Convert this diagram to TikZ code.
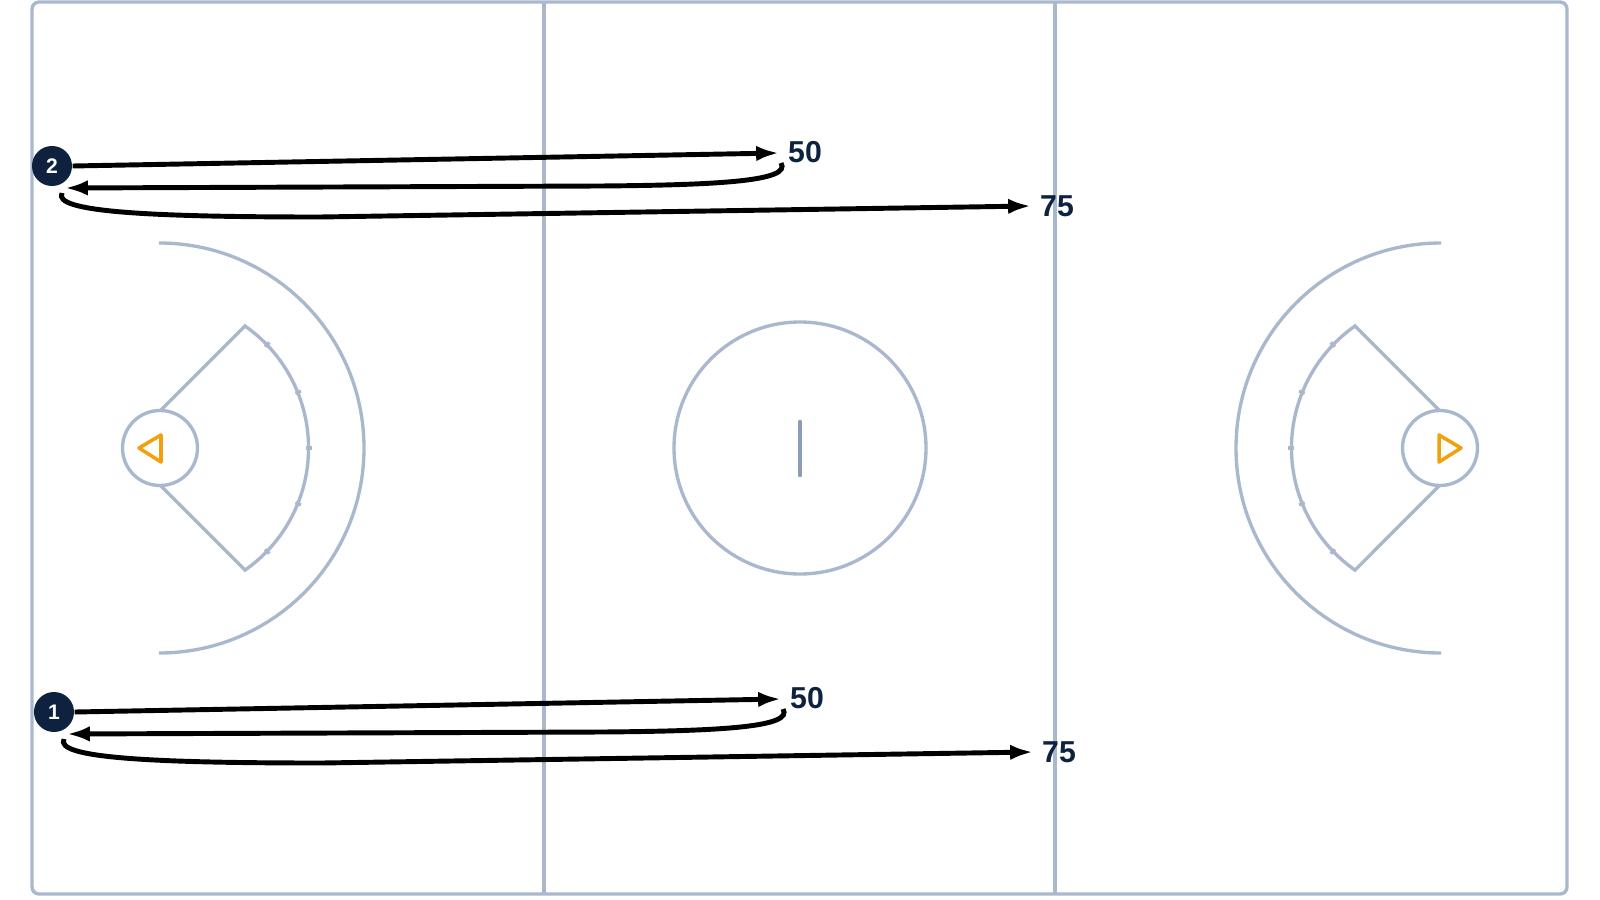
\documentclass[tikz,border=0pt]{standalone}
\usepackage{fontspec}
\setmainfont{Liberation Sans}
\usetikzlibrary{arrows.meta}

\definecolor{fieldline}{RGB}{169,184,204}
\definecolor{centerline}{RGB}{138,157,183}
\definecolor{navy}{RGB}{14,34,64}
\definecolor{goalorange}{RGB}{242,160,12}

\begin{document}
\begin{tikzpicture}[x=0.01cm,y=-0.01cm,
        field/.style={draw=fieldline,line width=0.95pt},
        goalmark/.style={draw=goalorange,line width=1pt,line join=round},
        run/.style={draw=black,line width=1.4pt,-{Latex[length=6.5pt,width=4.4pt]}},
        player/.style={circle,fill=navy,text=white,inner sep=0pt,minimum size=0.4cm,
            font=\fontsize{6}{7}\selectfont\bfseries},
        dist/.style={text=navy,inner sep=0pt,font=\fontsize{8.6}{10}\selectfont\bfseries}]
            \useasboundingbox (0,0) rectangle (1600,900);
            \fill[white] (0,0) rectangle (1600,900);
            % field
            \draw[field,rounded corners=2pt] (32,2) rectangle (1567,894);
            \draw[field] (544,2)--(544,894);
            \draw[field] (1055,2)--(1055,894);
            \draw[field] (800,448) circle (126);
            \draw[draw=centerline,line width=1.3pt,line cap=round] (800,422)--(800,475);
            % left goal
            \draw[field] (159,243) arc (-90:90:205);
            \draw[field] (160,448) circle (37.5);
            \draw[field] (160,411)--(245,326) arc (-55:55:149)--(160,485);
            \foreach \a in {-44,-22,0,22,44}
                \draw[field,shift={(160,448)}] (\a:146)--(\a:152);
            \draw[goalmark] (139,448)--(161,435)--(161,462)--cycle;
            % right goal
            \draw[field] (1441,243) arc (-90:-270:205);
            \draw[field] (1440,448) circle (37.5);
            \draw[field] (1440,411)--(1355,326) arc (-125:-235:149)--(1440,485);
            \foreach \a in {136,158,180,202,224}
                \draw[field,shift={(1440,448)}] (\a:146)--(\a:152);
            \draw[goalmark] (1439,435)--(1461,448)--(1439,462)--cycle;
            % players and runs
            \foreach \n/\dx/\dy in {2/0/0,1/2/546}{
                \begin{scope}[shift={(\dx,\dy)}]
                    \node[player] (p\n) at (52,166) {\n};
                    \coordinate (go\n) at (779,153);
                    \coordinate (turn\n) at (781,163);
                    \coordinate (back\n) at (65,188);
                    \coordinate (start\n) at (62,193);
                    \coordinate (far\n) at (1031,206);
                    \node[dist] (half\n) at (805,152) {50};
                    \node[dist] (full\n) at (1057,206) {75};
                    \draw[run] (p\n.east)--(go\n);
                    \draw[run] (turn\n) .. controls (792,181) and (720,185) .. (600,186)--(back\n);
                    \draw[run] (start\n) .. controls (52,212) and (150,217) .. (320,217)--(far\n);
                \end{scope}
            }
        \end{tikzpicture}
\end{document}
